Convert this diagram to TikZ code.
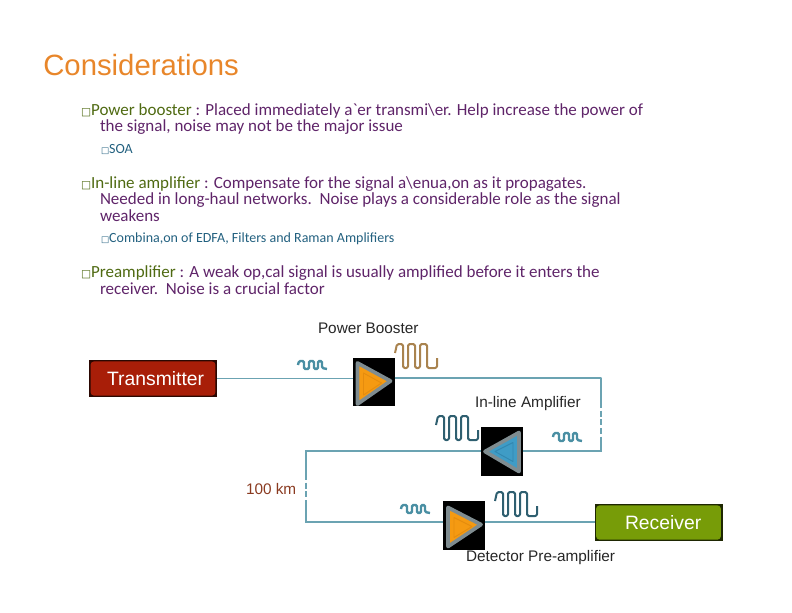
\documentclass[tikz,border=0pt]{standalone}
\usepackage{fontspec}
\setmainfont{Carlito}[Ligatures=TeXOff]
\newfontfamily\lab{Liberation Sans}
\newfontfamily\sym{DejaVu Sans}
\usetikzlibrary{calc}
\definecolor{titlec}{HTML}{E8862A}
\definecolor{olivec}{HTML}{4F6A12}
\definecolor{purpc}{HTML}{5F2469}
\definecolor{subc}{HTML}{22607F}
\definecolor{wirec}{HTML}{6BA3B2}
\definecolor{redc}{HTML}{A81E08}
\definecolor{greenc}{HTML}{779C08}
\definecolor{amporange}{HTML}{F59A12}
\definecolor{ampoinner}{HTML}{E58C0E}
\definecolor{ampblue}{HTML}{3F9CC6}
\definecolor{ampbinner}{HTML}{3288B0}
\definecolor{ampgray}{HTML}{7F8C90}
\definecolor{pulseo}{HTML}{A9834F}
\definecolor{pulsed}{HTML}{2F5F70}
\definecolor{pulses}{HTML}{4A8FA3}
\definecolor{kmc}{HTML}{8A3A20}
\newcommand{\blt}{{\sym\fontsize{8pt}{9pt}\selectfont\textcolor{olivec}{□}}}
\newcommand{\sblt}{{\sym\fontsize{6.5pt}{7pt}\selectfont□}}
\tikzset{
  x=0.75pt,y=-0.75pt,
  mainline/.style={anchor=base west,inner sep=0pt,outer sep=0pt,text=purpc,font=\fontsize{12.75pt}{13pt}\selectfont},
  subline/.style={anchor=base west,inner sep=0pt,outer sep=0pt,text=subc,font=\fontsize{10.5pt}{11pt}\selectfont},
  caption/.style={anchor=base west,inner sep=0pt,outer sep=0pt,text=black!85,font=\lab\fontsize{11.5pt}{12pt}\selectfont},
  wire/.style={draw=wirec,line width=1.3pt},
  wiredash/.style={wire,dash pattern=on 4.5pt off 2pt},
  ampbox/.style={fill=black,draw=none,minimum width=31.5pt,minimum height=36.5pt,inner sep=0pt,outer sep=0pt},
  amptri/.style={draw=ampgray,line width=2.8pt,line join=round},
  ampinner/.style={line width=0.7pt,line join=round},
  termbox/.style={fill=black!75!#1,draw=none,minimum height=28pt,minimum width=96pt,inner sep=0pt,outer sep=0pt,text=white,font=\lab\fontsize{14.5pt}{15pt}\selectfont,
    path picture={\fill[#1,rounded corners=2.5pt] ($(path picture bounding box.south west)+(1.2pt,1.2pt)$) rectangle ($(path picture bounding box.north east)+(-1.2pt,-1.2pt)$);}},
  pulse/.style={line width=1.5pt,rounded corners=1.2pt,line join=round},
  smallpulse/.style={draw=pulses,line width=1.8pt,rounded corners=1pt}
}
\newcommand{\bigpulse}[3]{% x y colour
  \draw[pulse,draw=#3,shift={(#1,#2)}] (0,9) -- (2,0) -- (8,0) -- (8,24) -- (13,24) -- (13,0) -- (20,0) -- (20,24) -- (25,24) -- (25,0) -- (32,0) -- (32,24) -- (42,24) -- (42,14);}
\newcommand{\tinypulse}[2]{% x y
  \draw[smallpulse,shift={(#1,#2)}] (0,4) -- (1,0) -- (6,0) -- (6,8) -- (11,8) -- (11,0) -- (16,0) -- (16,8) -- (20,8) -- (20,0) -- (24,0) -- (24,7) -- (29,8);}
\begin{document}
\begin{tikzpicture}
\useasboundingbox (0,0) rectangle (792,612);
\node[anchor=base west,inner sep=0pt,text=titlec,font=\lab\fontsize{22pt}{23pt}\selectfont] (title) at (43,75) {Considerations};
% bullets text
\node[mainline] (b1) at (81,115) {\blt\textcolor{olivec}{Power booster} : Placed immediately a`er transmi\textbackslash er. Help increase the power of};
\node[mainline] (b1b) at (100,131) {the signal, noise may not be the major issue};
\node[subline] (s1) at (101,153) {\sblt SOA};
\node[mainline] (b2) at (81,188) {\blt\textcolor{olivec}{In-line amplifier} : Compensate for the signal a\textbackslash enua,on as it propagates.};
\node[mainline] (b2b) at (100,204) {Needed in long-haul networks.\ \ Noise plays a considerable role as the signal};
\node[mainline] (b2c) at (100,221) {weakens};
\node[subline] (s2) at (101,242) {\sblt Combina,on of EDFA, Filters and Raman Amplifiers};
\node[mainline] (b3) at (81,277) {\blt\textcolor{olivec}{Preamplifier} : A weak op,cal signal is usually amplified before it enters the};
\node[mainline] (b3b) at (100,294) {receiver.\ \ Noise is a crucial factor};
% terminals and amplifiers
\node[termbox=redc] (tx) at (153,378.5) {\hspace*{4pt}Transmitter};
\node[termbox=greenc] (rx) at (658.5,522.5) {\hspace*{7pt}Receiver};
\node[ampbox] (a1) at (373.5,382) {};
\node[ampbox] (a2) at (502,451.5) {};
\node[ampbox] (a3) at (464,525.5) {};
\draw[amptri,fill=amporange] (a1.center) ++(-16,-19) -- ++(0,41) -- ++(33,-23) -- cycle;
\draw[ampinner,draw=ampoinner] (a1.center) ++(-10,-9) -- ++(0,22) -- ++(18,-12) -- cycle;
\draw[amptri,fill=ampblue] (a2.center) ++(17,-19) -- ++(0,39) -- ++(-34,-20) -- cycle;
\draw[ampinner,draw=ampbinner] (a2.center) ++(11,-9) -- ++(0,19) -- ++(-18,-10) -- cycle;
\draw[amptri,fill=amporange] (a3.center) ++(-16,-18) -- ++(0,39) -- ++(33,-22) -- cycle;
\draw[ampinner,draw=ampoinner] (a3.center) ++(-10,-8) -- ++(0,20) -- ++(18,-11) -- cycle;
% wires
\coordinate (c1) at (601,378);
\coordinate (c1a) at (601,402);
\coordinate (c1b) at (601,440);
\coordinate (c2) at (601,451);
\coordinate (c3) at (306,451);
\coordinate (c3a) at (306,474);
\coordinate (c3b) at (306,505);
\coordinate (c4) at (306,522);
\draw[wire] (tx.east) -- (tx.east -| a1.west);
\draw[wire,line join=round] (a1.east |- c1) -- (c1) -- (c1a);
\draw[wiredash] (c1a) -- (c1b);
\draw[wire] (c1b) -- (c2) -- (a2.east |- c2);
\draw[wire] (a2.west |- c3) -- (c3) -- (c3a);
\draw[wiredash] (c3a) -- (c3b);
\draw[wire] (c3b) -- (c4) -- (c4 -| a3.west);
\draw[wire] (a3.east |- c4) -- (rx.west |- c4);
% pulses
\tinypulse{298}{361}
\bigpulse{395}{344}{pulseo}
\bigpulse{436}{416}{pulsed}
\tinypulse{553}{433}
\tinypulse{401}{505}
\bigpulse{495}{492}{pulsed}
% labels
\node[caption] (l1) at (318,333) {Power Booster};
\node[caption] (l2) at (475,407) {In-line Amplifier};
\node[caption,text=kmc] (l3) at (246,494) {100 km};
\node[caption] (l4) at (466,561) {Detector Pre-amplifier};
\end{tikzpicture}
\end{document}
